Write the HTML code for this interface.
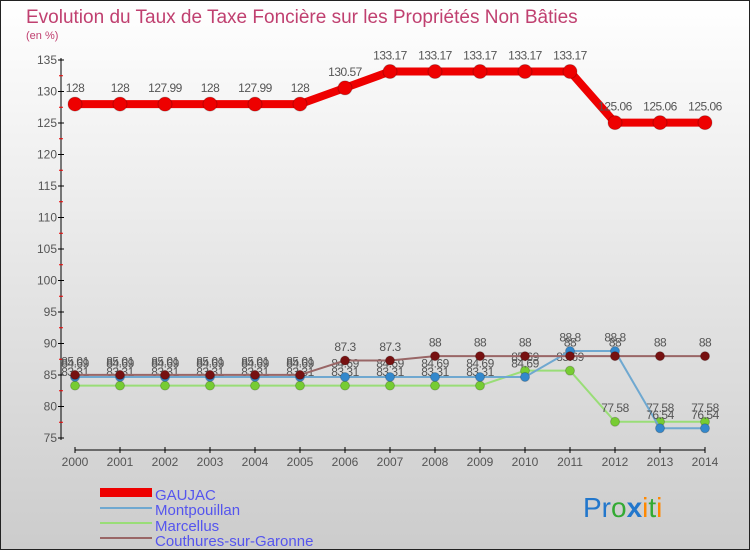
<!DOCTYPE html>
<html><head><meta charset="utf-8"><style>
body{margin:0;width:750px;height:550px;overflow:hidden;font-family:"Liberation Sans",sans-serif}
</style></head><body>
<svg id="c" width="750" height="550" xmlns="http://www.w3.org/2000/svg">
<defs><linearGradient id="bg" x1="0" y1="0" x2="0" y2="1"><stop offset="0" stop-color="#ffffff"/><stop offset="1" stop-color="#cccccc"/></linearGradient></defs>
<rect x="0.5" y="0.5" width="749" height="549" fill="url(#bg)" stroke="#222"/>
<text x="26" y="23" font-size="19" fill="#c04070">Evolution du Taux de Taxe Foncière sur les Propriétés Non Bâties</text>
<text x="26" y="39" font-size="11" fill="#c04070">(en %)</text>
<g id="axes"></g><g id="series"></g>
<g>
<rect x="100" y="488" width="52" height="9" fill="#ee0000"/>
<text x="155" y="500" font-size="15" fill="#5555ee">GAUJAC</text>
<rect x="100" y="507" width="52" height="2" fill="#6fa8d0"/>
<text x="155" y="515" font-size="15" fill="#5555ee">Montpouillan</text>
<rect x="100" y="522" width="52" height="2" fill="#99dd77"/>
<text x="155" y="531" font-size="15" fill="#5555ee">Marcellus</text>
<rect x="100" y="537" width="52" height="2" fill="#996666"/>
<text x="155" y="546" font-size="15" fill="#5555ee">Couthures-sur-Garonne</text>
</g>
<text x="583" y="517" font-size="28"><tspan fill="#2277cc">Pr</tspan><tspan fill="#33aa33">o</tspan><tspan fill="#2277cc" font-weight="bold">x</tspan><tspan fill="#ff8800">i</tspan><tspan fill="#33aa33">t</tspan><tspan fill="#ff8800">i</tspan></text>
</svg>
<script>
const years=[2000,2001,2002,2003,2004,2005,2006,2007,2008,2009,2010,2011,2012,2013,2014];
const gaujac=[128,128,127.99,128,127.99,128,130.57,133.17,133.17,133.17,133.17,133.17,125.06,125.06,125.06];
const montpouillan=[84.69,84.69,84.69,84.69,84.69,84.69,84.69,84.69,84.69,84.69,84.69,88.8,88.8,76.54,76.54];
const marcellus=[83.31,83.31,83.31,83.31,83.31,83.31,83.31,83.31,83.31,83.31,85.69,85.69,77.58,77.58,77.58];
const couthures=[85.01,85.01,85.01,85.01,85.01,85.01,87.3,87.3,88,88,88,88,88,88,88];
const yTicks=[75,80,85,90,95,100,105,110,115,120,125,130,135];
const NS="http://www.w3.org/2000/svg";
const x=i=>75+i*45, y=v=>60+(135-v)*6.3;
function mk(t,a,p){const e=document.createElementNS(NS,t);for(const k in a)e.setAttribute(k,a[k]);p.appendChild(e);return e;}
const ax=document.getElementById('axes'), sg=document.getElementById('series');
const yl=mk('line',{x1:61,y1:58,x2:61,y2:440,stroke:'#000'},ax);


yTicks.forEach(v=>{
 mk('line',{x1:58,x2:64,y1:y(v),y2:y(v),stroke:'#000'},ax);
 if(v<135)mk('line',{x1:59,x2:63,y1:y(v+2.5),y2:y(v+2.5),stroke:'#e00'},ax);
 const t=mk('text',{x:57,y:y(v)+4,'font-size':12,'text-anchor':'end',fill:'#555'},ax);t.textContent=v;
 
 
});
const xl=mk('line',{x1:75,y1:450,x2:705,y2:450,stroke:'#000'},ax);


years.forEach((yr,i)=>{
 mk('line',{x1:x(i),x2:x(i),y1:447,y2:453,stroke:'#000'},ax);
 const t=mk('text',{x:x(i),y:466,'font-size':12,'text-anchor':'middle',fill:'#555'},ax);t.textContent=yr;
 
 
});
function series(vals,name,col,lw,r,dot){
 const g=mk('g',{},sg);
 
 
 mk('polyline',{points:vals.map((v,i)=>x(i)+','+y(v)).join(' '),fill:'none',stroke:col,'stroke-width':lw},g);
 vals.forEach((v,i)=>{
  const c=mk('circle',{cx:x(i),cy:y(v),r:r,fill:dot,stroke:'rgba(0,0,0,0.2)'},g);
  
  
  const t=mk('text',{x:x(i),y:y(v)-(r+5),'font-size':12,'text-anchor':'middle',fill:'#555','letter-spacing':'-0.5'},g);
  t.textContent=String(v);
  
  
 });
}
series(marcellus,'marcellus','#99dd77',2,4.5,'#77cc33');
series(montpouillan,'montpouillan','#6fa8d0',2,4.5,'#3388cc');
series(couthures,'couthures','#996666',2,4.5,'#771111');
series(gaujac,'gaujac','#ee0000',8,7,'#ee0000');
</script>
</body></html>
